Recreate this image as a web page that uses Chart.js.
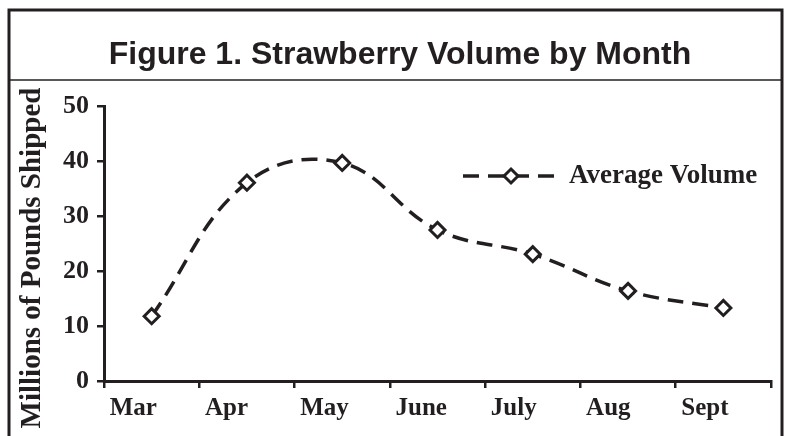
<!DOCTYPE html>
<html>
<head>
<meta charset="utf-8">
<script src="https://cdn.jsdelivr.net/npm/chart.js@4.4.1/dist/chart.umd.min.js"></script>
<style>
  html, body { margin: 0; padding: 0; background: #fff; }
  #wrap { width: 786px; height: 436px; }
</style>
</head>
<body>
<div id="wrap"><canvas id="volChart" width="786" height="436"></canvas></div>
<script>
// Datos
const months = ["Mar", "Apr", "May", "June", "July", "Aug", "Sept"];
const avgVolume = [11.8, 36.1, 39.7, 27.5, 23.1, 16.4, 13.3];
const seriesName = "Average Volume";
const chartTitle = "Figure 1. Strawberry Volume by Month";
const yTitle = "Millions of Pounds Shipped";

const ink = "#231f20";
const serif = "'Liberation Serif', 'DejaVu Serif', serif";

// Marco, linea bajo el titulo y titulo del eje Y
const framePlugin = {
    id: "frame",
    afterDraw(chart) {
        const ctx = chart.ctx;
        ctx.save();
        ctx.strokeStyle = ink;
        ctx.lineWidth = 3;
        ctx.beginPath();
        ctx.moveTo(9, 440);
        ctx.lineTo(9, 10);
        ctx.lineTo(782, 10);
        ctx.lineTo(782, 440);
        ctx.stroke();
        ctx.lineWidth = 1.5;
        ctx.beginPath();
        ctx.moveTo(9, 80);
        ctx.lineTo(782, 80);
        ctx.stroke();

        // titulo del eje Y, rotado
        ctx.translate(33, 258);
        ctx.rotate(-Math.PI / 2);
        ctx.fillStyle = ink;
        ctx.font = "bold 29px " + serif;
        ctx.textAlign = "center";
        ctx.textBaseline = "middle";
        ctx.fillText(yTitle, 0, 0);
        ctx.restore();
    }
};

// Leyenda dentro del area del grafico (linea + marcador + texto)
const legendPlugin = {
    id: "insideLegend",
    afterDatasetsDraw(chart) {
        const ctx = chart.ctx;
        const ds = chart.data.datasets[0];
        const y = 176;
        ctx.save();
        ctx.strokeStyle = ink;
        ctx.lineWidth = 3.5;
        ctx.setLineDash([16, 9]);
        ctx.beginPath();
        ctx.moveTo(463, y);
        ctx.lineTo(554, y);
        ctx.stroke();
        ctx.setLineDash([]);
        ctx.fillStyle = "#fff";
        ctx.lineWidth = 3;
        ctx.beginPath();
        ctx.moveTo(511, y - 7);
        ctx.lineTo(518, y);
        ctx.lineTo(511, y + 7);
        ctx.lineTo(504, y);
        ctx.closePath();
        ctx.fill();
        ctx.stroke();
        ctx.fillStyle = ink;
        ctx.font = "bold 27px " + serif;
        ctx.textBaseline = "middle";
        ctx.fillText(ds.label, 569, y);
        ctx.restore();
    }
};

const ctx = document.getElementById("volChart").getContext("2d");

new Chart(ctx, {
    type: "line",
    data: {
        labels: months,
        datasets: [{
            label: seriesName,
            data: avgVolume,
            borderColor: ink,
            borderWidth: 3.5,
            borderDash: [16, 9],
            tension: 0.4,
            fill: false,
            pointStyle: "rectRot",
            pointRadius: 7.5,
            pointBorderWidth: 3,
            pointBackgroundColor: "#fff",
            pointBorderColor: ink
        }]
    },
    options: {
        responsive: false,
        animation: false,
        layout: {
            padding: { left: 29, right: 15, top: 0, bottom: 0 }
        },
        plugins: {
            legend: { display: false },
            tooltip: { enabled: false },
            title: {
                display: true,
                text: chartTitle,
                color: ink,
                font: { family: "'Liberation Sans', Arial, sans-serif", size: 32, weight: "bold" },
                padding: { top: 36, bottom: 32 }
            }
        },
        scales: {
            x: {
                offset: true,
                afterFit(scale) { scale.height = 55; },
                grid: {
                    offset: true,
                    drawOnChartArea: false,
                    drawTicks: true,
                    tickLength: 7,
                    color: ink,
                    lineWidth: 2.5
                },
                border: { color: ink, width: 3 },
                ticks: {
                    color: ink,
                    align: "start",
                    labelOffset: -42,
                    padding: 6,
                    font: { family: serif, size: 25, weight: "bold" }
                }
            },
            y: {
                min: 0,
                max: 50,
                afterFit(scale) { scale.width = 75; },
                grid: {
                    drawOnChartArea: false,
                    drawTicks: true,
                    tickLength: 7,
                    color: ink,
                    lineWidth: 2.5
                },
                border: { color: ink, width: 3 },
                ticks: {
                    stepSize: 10,
                    color: ink,
                    padding: 8,
                    font: { family: serif, size: 26, weight: "bold" }
                }
            }
        }
    },
    plugins: [framePlugin, legendPlugin]
});
</script>
</body>
</html>
